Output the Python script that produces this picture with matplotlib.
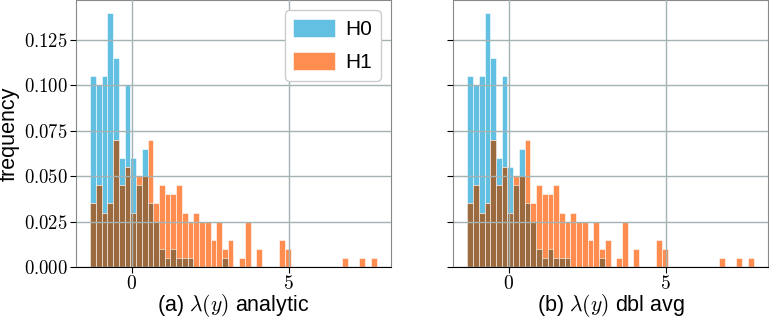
import numpy as np
import matplotlib
matplotlib.use("Agg")
import matplotlib.pyplot as plt

plt.rcParams['font.family'] = ['Liberation Sans', 'DejaVu Sans']
plt.rcParams['mathtext.fontset'] = 'cm'

# histogram bins (shared)
bin_lo, bin_hi, n_bins = -1.32, 7.81, 50

# frequencies per bin (50 bins)
h0_analytic = [0.105, 0.100, 0.105, 0.140, 0.115, 0.060, 0.100, 0.060, 0.045, 0.065,
               0.035, 0.025, 0.010, 0.005, 0.010, 0.005, 0.005, 0.005, 0, 0,
               0, 0, 0, 0.005, 0, 0, 0, 0, 0, 0,
               0, 0, 0, 0, 0, 0, 0, 0, 0, 0,
               0, 0, 0, 0, 0, 0, 0, 0, 0, 0]
h0_dblavg = [0.105, 0.100, 0.105, 0.140, 0.115, 0.060, 0.105, 0.055, 0.045, 0.065,
             0.035, 0.025, 0.010, 0.005, 0.010, 0.005, 0.005, 0.005, 0, 0,
             0, 0, 0, 0.005, 0, 0, 0, 0, 0, 0,
             0, 0, 0, 0, 0, 0, 0, 0, 0, 0,
             0, 0, 0, 0, 0, 0, 0, 0, 0, 0]
h1 = [0.035, 0.045, 0.030, 0.035, 0.070, 0.045, 0.055, 0.030, 0.050, 0.050,
      0.070, 0.035, 0.045, 0.040, 0.040, 0.045, 0.030, 0.025, 0.030, 0.025,
      0.025, 0.015, 0.025, 0.010, 0.015, 0, 0.005, 0.025, 0, 0.010,
      0, 0, 0, 0.015, 0.010, 0, 0, 0, 0, 0,
      0, 0, 0, 0, 0.005, 0, 0, 0.005, 0, 0.005]

panels = [("(a) $\\lambda(y)$ analytic", h0_analytic, h1),
          ("(b) $\\lambda(y)$ dbl avg", h0_dblavg, h1)]

y_ticks = [0.000, 0.025, 0.050, 0.075, 0.100, 0.125]
x_ticks = [0, 5]

c_h0 = '#62c0e3'
c_h1 = '#ff8d4f'
c_both = '#9b6b3f'
grid_c = '#a3b2b2'

fig = plt.figure(figsize=(7.69, 3.19), dpi=100)
ax1 = fig.add_axes([76/769, 52/319, 315/769, 267/319])
ax2 = fig.add_axes([453/769, 52/319, 315/769, 267/319], sharey=ax1)

edges = np.linspace(bin_lo, bin_hi, n_bins + 1)
w = edges[1] - edges[0]

for ax, (lab, a, b) in zip([ax1, ax2], panels):
    a = np.array(a); b = np.array(b)
    ax.bar(edges[:-1], a, width=w, align='edge', color=c_h0, edgecolor='white',
           linewidth=0.4, label='H0')
    ax.bar(edges[:-1], b, width=w, align='edge', color=c_h1, edgecolor='white',
           linewidth=0.4, label='H1')
    ax.bar(edges[:-1], np.minimum(a, b), width=w, align='edge', color=c_both,
           edgecolor='white', linewidth=0.4)
    ax.set_axisbelow(False)
    ax.grid(True, color=grid_c, linewidth=1.0)
    ax.set_xticks(x_ticks)
    ax.set_xticklabels([f"${t}$" for t in x_ticks], fontsize=14)
    ax.set_yticks(y_ticks)
    ax.set_xlabel(lab, fontsize=15.5)
    ax.xaxis.set_label_coords(0.5, -0.093)
    ax.xaxis.label.set_va('top')
    for s in ['left', 'right', 'top']:
        ax.spines[s].set_color('#888888')
    ax.spines['bottom'].set_color('black')
    ax.tick_params(length=4, width=0.8, colors='black', pad=2)

ax1.set_yticklabels([f"${t:.3f}$" for t in y_ticks], fontsize=13.5)
ax1.set_ylabel("frequency", fontsize=15.5)
ax1.yaxis.set_label_coords(-0.178, 0.5)
plt.setp(ax2.get_yticklabels(), visible=False)
ax1.set_ylim(0, 0.147)

leg = ax1.legend(loc='upper right', fontsize=15, handlelength=2.0, handleheight=1.0,
                 handletextpad=0.5, labelspacing=0.6, framealpha=1, fancybox=True,
                 borderaxespad=0.5)

fig.savefig("out.png", dpi=100)
